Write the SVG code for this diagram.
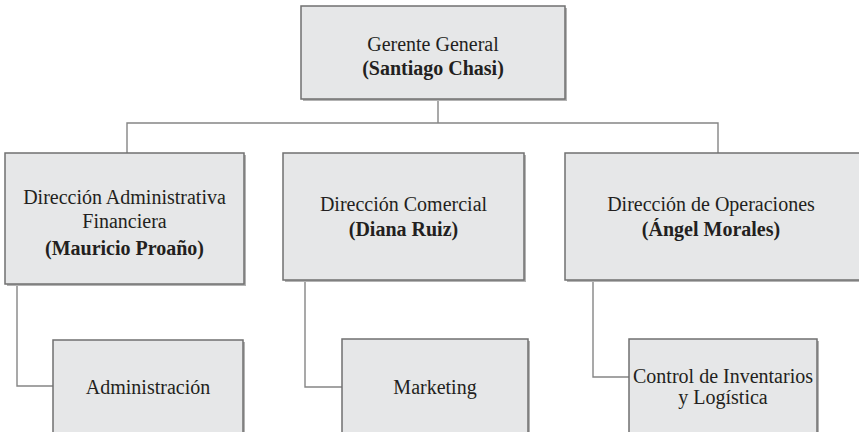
<svg xmlns="http://www.w3.org/2000/svg" width="859" height="432" viewBox="0 0 859 432">
  <style>
    .shadow { fill: #b3b3b3; }
    .box { fill: #e6e7e8; stroke: #707070; stroke-width: 1.5; }
    .wire { fill: none; stroke: #858585; stroke-width: 1.4; }
    text { font-family: 'Liberation Serif', 'Times New Roman', Times, 'DejaVu Serif', serif; font-size: 20px; fill: #231f20; text-anchor: middle; }
    .name { font-weight: bold; }
  </style>

  <!-- connectors -->
  <g id="connectors">
    <polyline class="wire" points="438,99 438,123"/>
    <polyline class="wire" points="127,153 127,123 718,123 718,153"/>
    <polyline class="wire" points="17,284 17,386 53,386"/>
    <polyline class="wire" points="305,281 305,387 342,387"/>
    <polyline class="wire" points="593,281 593,377 629,377"/>
  </g>

  <g id="gerente-general">
    <rect class="shadow" x="303" y="8" width="264" height="93"/>
    <rect class="box" x="301" y="6" width="264" height="93"/>
    <text x="433" y="51">Gerente General</text>
    <text class="name" x="433" y="75">(Santiago Chasi)</text>
  </g>

  <g id="direccion-administrativa">
    <rect class="shadow" x="7" y="155" width="239" height="131"/>
    <rect class="box" x="5" y="153" width="239" height="131"/>
    <text x="124.5" y="204">Dirección Administrativa</text>
    <text x="124.5" y="228">Financiera</text>
    <text class="name" x="124.5" y="255">(Mauricio Proaño)</text>
  </g>

  <g id="direccion-comercial">
    <rect class="shadow" x="285" y="155" width="241" height="127"/>
    <rect class="box" x="283" y="153" width="241" height="127"/>
    <text x="403.5" y="211">Dirección Comercial</text>
    <text class="name" x="403.5" y="236">(Diana Ruiz)</text>
  </g>

  <g id="direccion-operaciones">
    <rect class="shadow" x="567" y="155" width="294" height="127"/>
    <rect class="box" x="565" y="153" width="296" height="127"/>
    <text x="711" y="211">Dirección de Operaciones</text>
    <text class="name" x="711" y="236">(Ángel Morales)</text>
  </g>

  <g id="administracion">
    <rect class="shadow" x="55" y="342" width="190" height="100"/>
    <rect class="box" x="53" y="340" width="190" height="100"/>
    <text x="148" y="394">Administración</text>
  </g>

  <g id="marketing">
    <rect class="shadow" x="344" y="341" width="186" height="100"/>
    <rect class="box" x="342" y="339" width="186" height="100"/>
    <text x="435" y="394">Marketing</text>
  </g>

  <g id="control-inventarios">
    <rect class="shadow" x="631" y="341" width="188" height="100"/>
    <rect class="box" x="629" y="339" width="188" height="100"/>
    <text x="723" y="383">Control de Inventarios</text>
    <text x="723" y="404">y Logística</text>
  </g>
</svg>
